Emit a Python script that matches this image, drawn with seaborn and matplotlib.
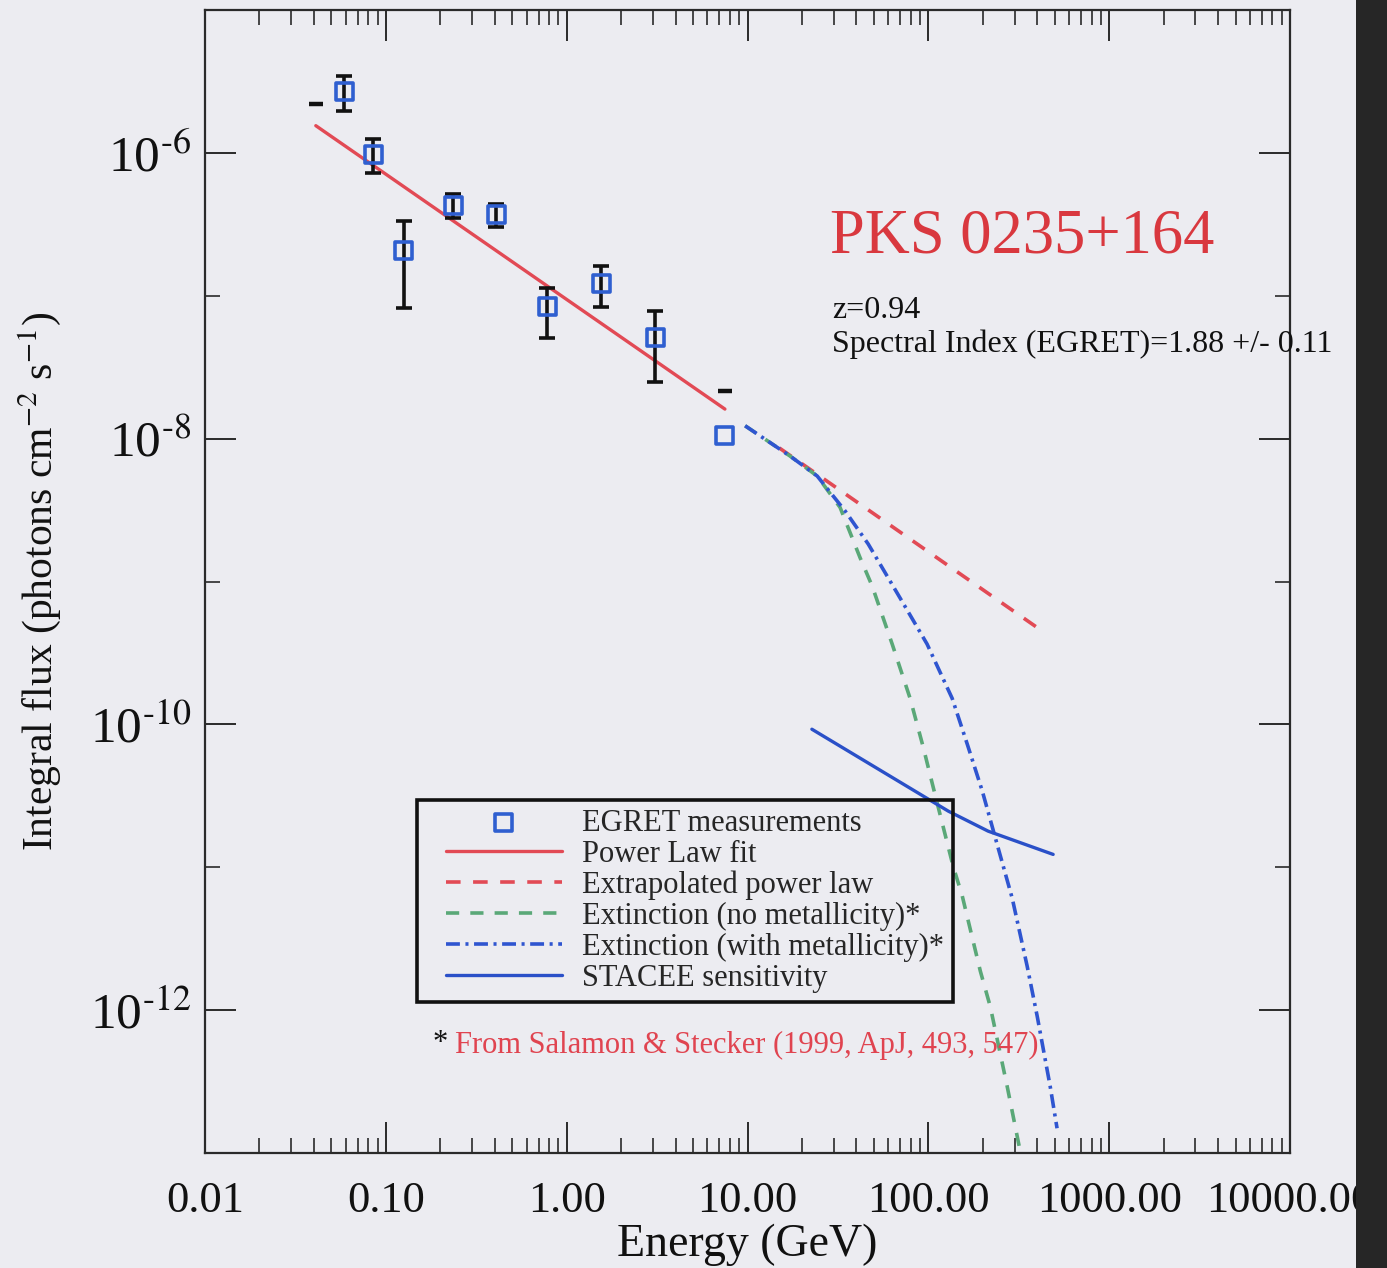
import numpy as np
import pandas as pd
import matplotlib
matplotlib.use("Agg")
import matplotlib.pyplot as plt
import seaborn as sns
from matplotlib.ticker import FixedLocator, FuncFormatter, NullFormatter
from matplotlib.patches import Rectangle
from matplotlib.lines import Line2D
from matplotlib.collections import PathCollection
from matplotlib.legend_handler import HandlerLine2D, HandlerPathCollection

# EGRET integral flux measurements (GeV, photons cm^-2 s^-1)
egret_energy = [0.059, 0.085, 0.126, 0.236, 0.407, 0.78, 1.55, 3.08, 7.5]
egret_flux = [2.7e-6, 9.8e-7, 2.09e-7, 4.26e-7, 3.68e-7, 8.4e-8, 1.21e-7, 5.1e-8, 1.06e-8]
# error bar limits for the first eight points
egret_flux_hi = [3.46e-6, 1.25e-6, 3.34e-7, 5.16e-7, 4.4e-7, 1.13e-7, 1.62e-7, 7.8e-8]
egret_flux_lo = [1.97e-6, 7.24e-7, 8.2e-8, 3.51e-7, 3.03e-7, 5.06e-8, 8.36e-8, 2.49e-8]

# range markers at the ends of the fit
range_energy = [0.041, 7.5]
range_flux = [2.2e-6, 2.15e-8]

# power law fit and its extrapolation
fit_energy = [0.041, 7.5]
fit_flux = [1.55e-6, 1.61e-8]
extrap_energy = [15.0, 443.0]
extrap_flux = [8.6e-9, 4.35e-10]

# extinction models (Salamon & Stecker 1999)
no_metal_energy = [9.7, 17.2, 24.3, 32.5, 42.0, 48.9, 63.1, 79.3, 93.5, 106, 137, 154, 194, 220, 273, 322]
no_metal_flux = [1.23e-8, 7.55e-9, 5.47e-9, 3.3e-9, 1.46e-9, 9.3e-10, 3.65e-10, 1.52e-10, 7.0e-11,
                 3.7e-11, 1.02e-11, 6.3e-12, 1.87e-12, 1.06e-12, 2.92e-13, 1.03e-13]
metal_energy = [9.7, 17.2, 24.3, 34.7, 46.5, 69.8, 98.4, 135.5, 164, 199, 240, 291, 352, 400, 472, 515]
metal_flux = [1.23e-8, 7.55e-9, 5.47e-9, 3.11e-9, 1.83e-9, 7.66e-10, 3.65e-10, 1.52e-10, 7.3e-11,
              3.4e-11, 1.45e-11, 6.07e-12, 2.03e-12, 9.06e-13, 2.92e-13, 1.49e-13]

# STACEE sensitivity curve
stacee_energy = [22.7, 129, 214, 490]
stacee_flux = [9.25e-11, 2.47e-11, 1.79e-11, 1.23e-11]

x_tick_values = [0.01, 0.1, 1, 10, 100, 1000, 10000]
x_tick_labels = ["0.01", "0.10", "1.00", "10.00", "100.00", "1000.00", "10000.00"]
y_major_ticks = [1e-12, 1e-10, 1e-8, 1e-6]
y_minor_ticks = [1e-13, 1e-11, 1e-9, 1e-7, 1e-5]

legend_labels = ["EGRET measurements", "Power Law fit", "Extrapolated power law",
                 "Extinction (no metallicity)*", "Extinction (with metallicity)*",
                 "STACEE sensitivity"]

BG = "#ececf1"
RED_FIT = "#e24a55"
RED_TITLE = "#d9383f"
GREEN = "#5aa878"
BLUE_DD = "#2f55d0"
BLUE_ST = "#2a50c8"
BLUE_SQ = "#2f5fd0"
INK = "#111111"

sns.set_theme(style="ticks")
plt.rcParams["font.family"] = ["Liberation Serif", "DejaVu Serif"]
plt.rcParams["mathtext.fontset"] = "stix"
plt.rcParams["lines.scale_dashes"] = False

fig = plt.figure(figsize=(13.87, 12.68), dpi=100, facecolor=BG)
ax = fig.add_axes([205 / 1387, 1 - 1153 / 1268, (1290 - 205) / 1387, (1153 - 10) / 1268])
ax.set_facecolor(BG)
ax.set_xscale("log")
ax.set_yscale("log")
ax.set_xlim(0.01, 10000)
ax.set_ylim(1e-13, 1e-5)

# model curves
sns.lineplot(x=extrap_energy, y=extrap_flux, ax=ax, color=RED_FIT, lw=2.6,
             linestyle=(0, (10.5, 9)), sort=False, estimator=None,
             label=legend_labels[2])
sns.lineplot(x=no_metal_energy, y=no_metal_flux, ax=ax, color=GREEN, lw=2.6,
             linestyle=(0, (9.5, 8)), sort=False, estimator=None,
             label=legend_labels[3])
sns.lineplot(x=metal_energy, y=metal_flux, ax=ax, color=BLUE_DD, lw=2.6,
             linestyle=(0, (10, 4, 2.2, 4)), sort=False, estimator=None,
             label=legend_labels[4])
sns.lineplot(x=stacee_energy, y=stacee_flux, ax=ax, color=BLUE_ST, lw=2.4,
             sort=False, estimator=None, label=legend_labels[5])
sns.lineplot(x=fit_energy, y=fit_flux, ax=ax, color=RED_FIT, lw=2.4,
             sort=False, estimator=None, label=legend_labels[1])

# EGRET points with error bars
n_err = len(egret_flux_hi)
yv = np.array(egret_flux[:n_err])
yerr = [yv - np.array(egret_flux_lo), np.array(egret_flux_hi) - yv]
ax.errorbar(egret_energy[:n_err], yv, yerr=yerr, fmt="none", ecolor=INK,
            elinewidth=2.6, capsize=5.5, capthick=2.6, zorder=4)
sns.scatterplot(x=egret_energy, y=egret_flux, ax=ax, marker="s", s=150,
                color="none", edgecolor=BLUE_SQ, linewidth=2.6, zorder=5,
                label=legend_labels[0])
ax.plot(range_energy, range_flux, ls="none", marker="_", ms=10, mew=3.2,
        color=INK, zorder=5)

# axes styling
for sp in ax.spines.values():
    sp.set_linewidth(1.6)
    sp.set_color("#2a2a2a")
ax.xaxis.set_major_locator(FixedLocator(x_tick_values))
ax.xaxis.set_major_formatter(FuncFormatter(
    lambda v, p: x_tick_labels[x_tick_values.index(v)] if v in x_tick_values else ""))
x_minor = [m * d for d in x_tick_values[:-1] for m in range(2, 10)]
ax.xaxis.set_minor_locator(FixedLocator(x_minor))
ax.xaxis.set_minor_formatter(NullFormatter())
ax.yaxis.set_major_locator(FixedLocator(y_major_ticks))
ax.yaxis.set_major_formatter(FuncFormatter(
    lambda v, p: "10$^{\\text{-%d}}$" % abs(int(round(np.log10(v))))))
ax.yaxis.set_minor_locator(FixedLocator(y_minor_ticks))
ax.yaxis.set_minor_formatter(NullFormatter())
ax.tick_params(which="both", direction="in", top=True, right=True, colors="#2a2a2a")
ax.tick_params(which="major", length=22, width=1.4, labelsize=32, labelcolor=INK)
ax.tick_params(which="minor", length=11, width=1.2)
ax.tick_params(axis="x", which="major", pad=20)
ax.tick_params(axis="y", which="major", pad=10, labelsize=37)

ax.set_xlabel("Energy (GeV)", fontsize=33, color=INK, labelpad=2)
ax.set_ylabel("Integral flux (photons cm$^{-2}$ s$^{-1}$)", fontsize=30, color=INK)
ax.yaxis.set_label_coords(-0.131, 0.5)

# annotations
ax.text(0.576, 0.788, "PKS 0235+164", transform=ax.transAxes, fontsize=45,
        color=RED_TITLE, va="baseline", ha="left")
ax.text(0.578, 0.7305, "z=0.94", transform=ax.transAxes, fontsize=23,
        color=INK, va="baseline", ha="left")
ax.text(0.578, 0.7005, "Spectral Index (EGRET)=1.88 +/- 0.11", transform=ax.transAxes,
        fontsize=23, color=INK, va="baseline", ha="left", clip_on=False)
ax.text(0.210, 0.089, "*", transform=ax.transAxes, fontsize=22, color=INK,
        va="baseline", ha="left")
ax.text(0.2304, 0.0875, "From Salamon & Stecker (1999, ApJ, 493, 547)", transform=ax.transAxes,
        fontsize=22, color="#e04450", va="baseline", ha="left")

# legend in the fixed order, transparent box, handles inset from the frame
handles, labels = ax.get_legend_handles_labels()
hmap = dict(zip(labels, handles))
leg_fs = 22
leg = ax.legend([hmap[k] for k in legend_labels], legend_labels, loc="upper left",
                bbox_to_anchor=(0.195, 0.309), borderaxespad=0, frameon=True,
                fancybox=False, edgecolor=INK, facecolor="none", framealpha=1,
                fontsize=leg_fs, handlelength=4.45, handletextpad=0.65,
                labelspacing=0.06, borderpad=0.3,
                handler_map={Line2D: HandlerLine2D(xpad=0.66),
                             PathCollection: HandlerPathCollection(xpad=0.66)})
leg.get_frame().set_linewidth(2.6)
leg.get_frame().set_facecolor("none")
leg.get_frame().set_edgecolor(INK)

# dark strip along the right edge of the page
fig.add_artist(Rectangle((1356 / 1387, 0), 1 - 1356 / 1387, 1, transform=fig.transFigure,
                         facecolor="#262626", edgecolor="none", zorder=20))

fig.savefig("out.png", dpi=100, facecolor=BG)
